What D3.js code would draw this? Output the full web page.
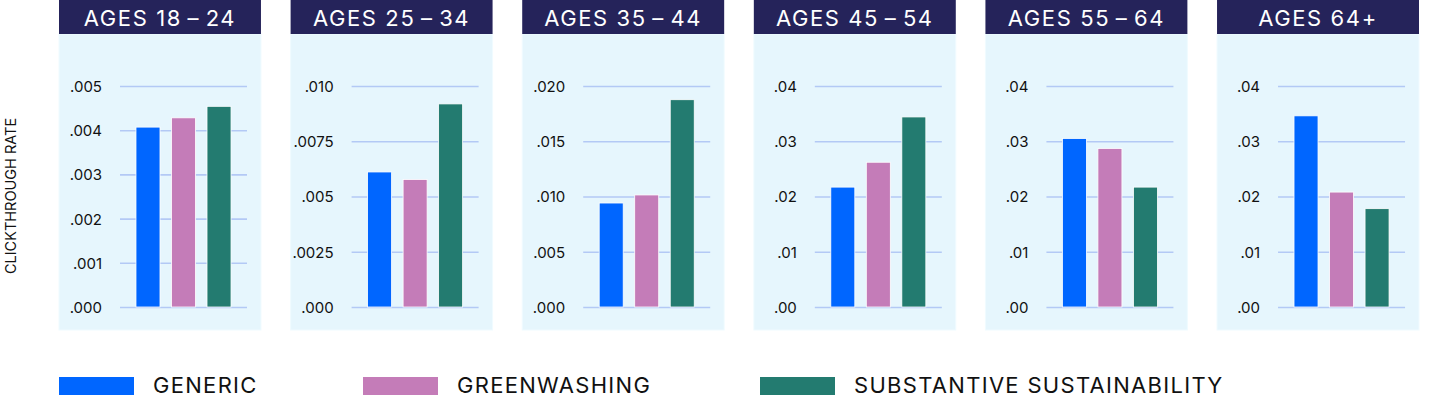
<!DOCTYPE html>
<html>
<head>
<meta charset="utf-8">
<script src="https://cdn.jsdelivr.net/npm/d3@7"></script>
<style>
  html, body { margin: 0; padding: 0; background: #fff; }
  svg { display: block; }
</style>
</head>
<body>
<script>
// Data
const panels = ["AGES 18–24", "AGES 25–34", "AGES 35–44", "AGES 45–54", "AGES 55–64", "AGES 64+"]
const series = ["GENERIC", "GREENWASHING", "SUBSTANTIVE SUSTAINABILITY"]
const generic = [0.00407, 0.00611, 0.00941, 0.0217, 0.0305, 0.0346]
const greenwashing = [0.00428, 0.00577, 0.01014, 0.0262, 0.0287, 0.0208]
const substantive = [0.00454, 0.00919, 0.01876, 0.0344, 0.0217, 0.0178]
const yMax = [0.005, 0.010, 0.020, 0.04, 0.04, 0.04]
const tickValues = [
  [0, 0.001, 0.002, 0.003, 0.004, 0.005],
  [0, 0.0025, 0.005, 0.0075, 0.010],
  [0, 0.005, 0.010, 0.015, 0.020],
  [0, 0.01, 0.02, 0.03, 0.04],
  [0, 0.01, 0.02, 0.03, 0.04],
  [0, 0.01, 0.02, 0.03, 0.04],
]
const tickLabels = [
  [".000", ".001", ".002", ".003", ".004", ".005"],
  [".000", ".0025", ".005", ".0075", ".010"],
  [".000", ".005", ".010", ".015", ".020"],
  [".00", ".01", ".02", ".03", ".04"],
  [".00", ".01", ".02", ".03", ".04"],
  [".00", ".01", ".02", ".03", ".04"],
]
const colors = ["#0066ff", "#c47cb8", "#237b70"]

// Config
const width = 1456, height = 397
const font = "Inter, 'Open Sans', sans-serif"
const headerH = 34, panelBottom = 330
const plotTop = 86, plotBottom = 307
const gridLeft = 61, gridRight = 188

const svg = d3.select("body").append("svg")
  .attr("width", width)
  .attr("height", height)
  .attr("font-family", font)

// Panels
const px = d3.scaleBand().domain(panels).range([59, 1419]).paddingInner(0.128)
const values = panels.map((_, i) => [generic[i], greenwashing[i], substantive[i]])

panels.forEach((name, i) => {
  const g = svg.append("g").attr("transform", `translate(${px(name)},0)`)
  const w = px.bandwidth()

  // Background and header
  g.append("rect")
    .attr("x", 0).attr("y", headerH)
    .attr("width", w).attr("height", panelBottom - headerH)
    .attr("fill", "#e6f6fd")
    .attr("stroke", "#f0fbff")
  g.append("rect")
    .attr("x", 0).attr("y", 0)
    .attr("width", w).attr("height", headerH)
    .attr("fill", "#25235a")
  g.append("text")
    .attr("x", w / 2).attr("y", 26)
    .attr("text-anchor", "middle")
    .attr("fill", "#fff")
    .attr("font-size", "22px")
    .attr("letter-spacing", "1.6px")
    .text(name.replace("–", "\u2009–\u2009"))

  // Scales
  const y = d3.scaleLinear().domain([0, yMax[i]]).range([plotBottom, plotTop])
  const x = d3.scaleBand().domain(series).range([gridLeft, gridRight]).paddingInner(0.324).paddingOuter(0.45)

  // Grid and labels
  g.append("g")
    .attr("transform", `translate(${gridLeft},0)`)
    .call(d3.axisLeft(y).tickValues(tickValues[i]).tickSize(-(gridRight - gridLeft)).tickPadding(18)
      .tickFormat((_, j) => tickLabels[i][j]))
    .call(a => a.select(".domain").remove())
    .call(a => a.selectAll(".tick line").attr("stroke", "#b3c9f5").attr("stroke-width", 1.6))
    .call(a => a.selectAll(".tick text").attr("fill", "#111").attr("font-size", "15px").attr("font-family", font).attr("dy", "0.36em"))

  // Bars
  g.append("g")
    .selectAll("rect")
    .data(values[i])
    .join("rect")
    .attr("x", (_, j) => x(series[j]))
    .attr("y", d => y(d))
    .attr("width", x.bandwidth())
    .attr("height", d => y(0) - y(d))
    .attr("fill", (_, j) => colors[j])
    .attr("stroke", "#fff")
    .attr("stroke-width", 0.8)
})

// Y axis title
svg.append("text")
  .attr("transform", "translate(16,196) rotate(-90)")
  .attr("text-anchor", "middle")
  .attr("font-size", "14.5px")
  .attr("fill", "#111")
  .text("CLICKTHROUGH RATE")

// Legend
const legendX = [59, 363, 760]
const legend = svg.append("g")
series.forEach((s, i) => {
  legend.append("rect")
    .attr("x", legendX[i]).attr("y", 377)
    .attr("width", 75).attr("height", 18)
    .attr("fill", colors[i])
  legend.append("text")
    .attr("x", legendX[i] + 94).attr("y", 393)
    .attr("font-size", "22px")
    .attr("letter-spacing", "1.3px")
    .attr("fill", "#111")
    .text(s)
})
</script>
</body>
</html>
